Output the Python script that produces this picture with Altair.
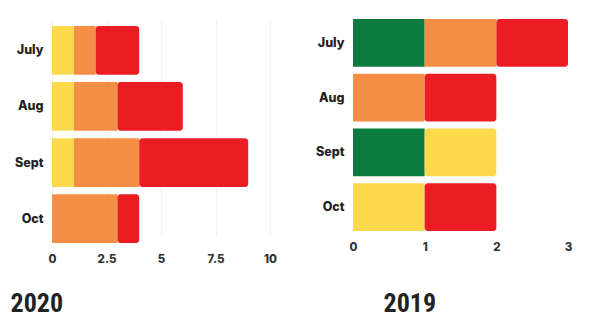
import altair as alt
import pandas as pd

months = ["July", "Aug", "Sept", "Oct"]
levels = ["green", "yellow", "orange", "red"]
level_colors = ["#0b7a3e", "#fdd94b", "#f58e45", "#ec1c24"]

y2020_green = [0, 0, 0, 0]
y2020_yellow = [1, 1, 1, 0]
y2020_orange = [1, 2, 3, 3]
y2020_red = [2, 3, 5, 1]

y2019_green = [1, 0, 1, 0]
y2019_yellow = [0, 0, 1, 1]
y2019_orange = [1, 1, 0, 0]
y2019_red = [1, 1, 0, 1]

ticks_2020 = [0, 2.5, 5, 7.5, 10]
ticks_2019 = [0, 1, 2, 3]


def build(series):
    rows = []
    for i, m in enumerate(months):
        start = 0
        segs = [(lvl, series[lvl][i]) for lvl in levels if series[lvl][i] > 0]
        for j, (lvl, v) in enumerate(segs):
            rows.append(dict(month=m, level=lvl, start=start, end=start + v,
                             last=(j == len(segs) - 1)))
            start += v
    return pd.DataFrame(rows)


df2020 = build({"green": y2020_green, "yellow": y2020_yellow,
                "orange": y2020_orange, "red": y2020_red})
df2019 = build({"green": y2019_green, "yellow": y2019_yellow,
                "orange": y2019_orange, "red": y2019_red})

TITLE_FONT = "'Roboto Condensed', 'DejaVu Sans Condensed', 'Roboto', sans-serif"


def panel(df, domain, ticks, width, height, yrange, title, title_x, title_y,
          grid, min_extent):
    base = alt.Chart(df).encode(
        y=alt.Y("month:N", sort=months,
                scale=alt.Scale(range=yrange, paddingInner=0.13, paddingOuter=0),
                axis=alt.Axis(title=None, domain=False, ticks=False,
                              labelFont="Inter", labelFontWeight=800,
                              labelFontSize=12.5, labelColor="#222222",
                              labelPadding=9, minExtent=min_extent)),
        x=alt.X("start:Q",
                scale=alt.Scale(domain=domain, nice=False, zero=True),
                axis=alt.Axis(values=ticks, format=".2~f", domain=False,
                              ticks=False, grid=grid, gridColor="#f1f1f1",
                              labelFont="Inter", labelFontWeight=800,
                              labelFontSize=11.5, labelColor="#333333",
                              labelPadding=10, labelFlush=False,
                              title=title, titleFont=TITLE_FONT,
                              titleFontWeight="bold", titleFontSize=26,
                              titleColor="#222222", titleAnchor="start",
                              titleAlign="left", titleBaseline="alphabetic",
                              titleX=title_x, titleY=title_y)),
        x2="end:Q",
        color=alt.Color("level:N",
                        scale=alt.Scale(domain=levels, range=level_colors),
                        legend=None),
    )
    inner = base.transform_filter("!datum.last").mark_bar()
    outer = base.transform_filter("datum.last").mark_bar(cornerRadiusEnd=3)
    return alt.layer(inner, outer).properties(width=width, height=height)


left = panel(df2020, [0, 10], ticks_2020, 218, 224, [7, 224], "2020",
             -42, 68, True, 47)
right = panel(df2019, [0, 3], ticks_2019, 215, 212, [0, 212], "2019",
              30, 80, False, 40)

chart = alt.hconcat(left, right, spacing=36).properties(
    padding={"left": 5, "top": 19, "right": 5, "bottom": 0}
).configure_view(stroke=None)

chart.save("out.html", embed_options={"renderer": "svg", "actions": False})
